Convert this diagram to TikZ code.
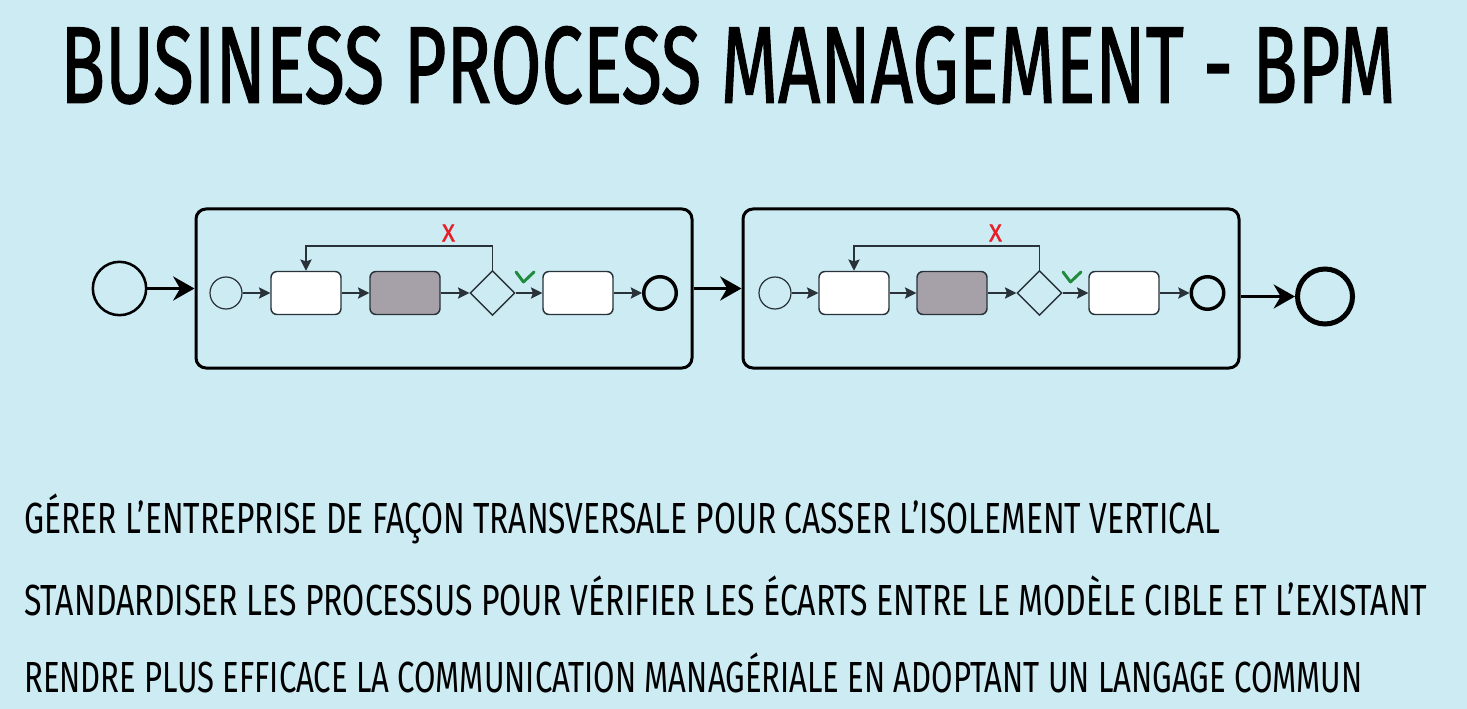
\documentclass[tikz,border=0pt]{standalone}
\usepackage{fontspec}
\usepackage{graphicx}
\usetikzlibrary{arrows.meta,shapes.geometric}
\newfontfamily\bpmfont{Fira Sans}
\newfontfamily\bpmtitlefont{Fira Sans}[FakeBold=1.4]
\definecolor{bgblue}{RGB}{205,235,243}
\definecolor{bpmline}{RGB}{40,50,56}
\definecolor{taskgray}{RGB}{166,161,168}
\definecolor{nored}{RGB}{232,30,40}
\definecolor{yesgreen}{RGB}{30,140,60}
% text squeezed to a given width and cap height
\newcommand{\fitline}[3]{\resizebox{#1}{#2}{\raisebox{0pt}[\fontcharht\font`H][0pt]{#3}}}
\tikzset{
  subproc/.style={draw=black, line width=2.25pt, rounded corners=7.5pt, minimum width=372pt, minimum height=119.25pt, inner sep=0pt},
  task/.style={draw=bpmline, line width=1.1pt, rounded corners=4.5pt, fill=white, minimum width=52.5pt, minimum height=32.25pt, inner sep=0pt},
  graytask/.style={task, fill=taskgray},
  gate/.style={diamond, aspect=1, draw=bpmline, line width=1.1pt, minimum width=33.75pt, minimum height=33.75pt, inner sep=0pt},
  startev/.style={circle, draw=bpmline, line width=0.9pt, minimum size=24pt, inner sep=0pt},
  endev/.style={circle, draw=black, line width=2.6pt, minimum size=24.4pt, inner sep=0pt},
  flow/.style={draw=bpmline, line width=1.1pt, -{Stealth[length=8.5pt,width=8.5pt,inset=1.5pt]}},
  bigflow/.style={draw=black, line width=2.25pt, -{Stealth[length=16pt,width=18pt]}},
  textline/.style={anchor=south west, inner sep=0pt, font=\bpmfont},
}
\begin{document}
\begin{tikzpicture}[x=0.75pt,y=0.75pt,yscale=-1,xscale=1]
\useasboundingbox (0,0) rectangle (1467,709);
\fill[bgblue] (0,0) rectangle (1467,709);

% Text Node
\node[textline, font=\bpmtitlefont] (title) at (60,103) {\fitline{1001.25pt}{56.25pt}{BUSINESS PROCESS MANAGEMENT - BPM}};

%Shape: Circle
\node[circle, draw=black, line width=1.9pt, minimum size=40pt, inner sep=0pt] (start) at (119.5,288.5) {};
%Shape: Circle
\node[circle, draw=black, line width=3.75pt, minimum size=41.25pt, inner sep=0pt] (stop) at (1325,296.5) {};

%Shape: Rectangle
\node[subproc] (sub1) at (444,288.5) {};
%Shape: Rectangle
\node[subproc] (sub2) at (991,288.5) {};

% first sub-process
\node[startev] (s1start) at (226,293) {};
\node[task] (s1t1) at (306,293) {};
\node[graytask] (s1t2) at (405,293) {};
\node[gate] (s1gate) at (492.5,293) {};
\node[task] (s1t3) at (578,293) {};
\node[endev] (s1end) at (660,293) {};
\coordinate (s1loop) at (306,246);

% second sub-process
\node[startev] (s2start) at (775,293) {};
\node[task] (s2t1) at (854,293) {};
\node[graytask] (s2t2) at (952,293) {};
\node[gate] (s2gate) at (1039.5,293) {};
\node[task] (s2t3) at (1124,293) {};
\node[endev] (s2end) at (1207.5,293) {};
\coordinate (s2loop) at (854,246);

%Straight Lines
\draw[bigflow] (start) -- (sub1.west);
\draw[bigflow] (sub1.east) -- (sub2.west);
\draw[bigflow] (sub2.east |- stop.west) -- (stop.west);

%Straight Lines
\draw[flow] (s1start) -- (s1t1);
\draw[flow] (s1t1) -- (s1t2);
\draw[flow] (s1t2) -- (s1gate);
\draw[flow] (s1gate) -- (s1t3);
\draw[flow] (s1t3) -- (s1end);
\draw[flow] (s1gate.north) |- (s1loop) -- (s1t1.north);

%Straight Lines
\draw[flow] (s2start) -- (s2t1);
\draw[flow] (s2t1) -- (s2t2);
\draw[flow] (s2t2) -- (s2gate);
\draw[flow] (s2gate) -- (s2t3);
\draw[flow] (s2t3) -- (s2end);
\draw[flow] (s2gate.north) |- (s2loop) -- (s2t1.north);

% Text Node
\node[inner sep=0pt, font=\bpmtitlefont, text=nored] (s1no) at (448.5,233) {\fitline{9.5pt}{12.5pt}{X}};
\node[inner sep=0pt, font=\bpmtitlefont, text=nored] (s2no) at (995.5,233) {\fitline{9.5pt}{12.5pt}{X}};
%Shape: Check
\draw[yesgreen, line width=2.2pt, line cap=round, line join=round] (516,272) -- (523.5,282) -- (534,272);
\draw[yesgreen, line width=2.2pt, line cap=round, line join=round] (1063,272) -- (1070.5,282) -- (1081,272);

% Text Node
\node[textline] (line1) at (24,534) {\fitline{897pt}{22.5pt}{GÉRER L’ENTREPRISE DE FAÇON TRANSVERSALE POUR CASSER L’ISOLEMENT VERTICAL}};
\node[textline] (line2) at (24,616) {\fitline{1052.25pt}{22.5pt}{STANDARDISER LES PROCESSUS POUR VÉRIFIER LES ÉCARTS ENTRE LE MODÈLE CIBLE ET L’EXISTANT}};
\node[textline] (line3) at (24,693) {\fitline{1003.5pt}{22.5pt}{RENDRE PLUS EFFICACE LA COMMUNICATION MANAGÉRIALE EN ADOPTANT UN LANGAGE COMMUN}};

\end{tikzpicture}
\end{document}
